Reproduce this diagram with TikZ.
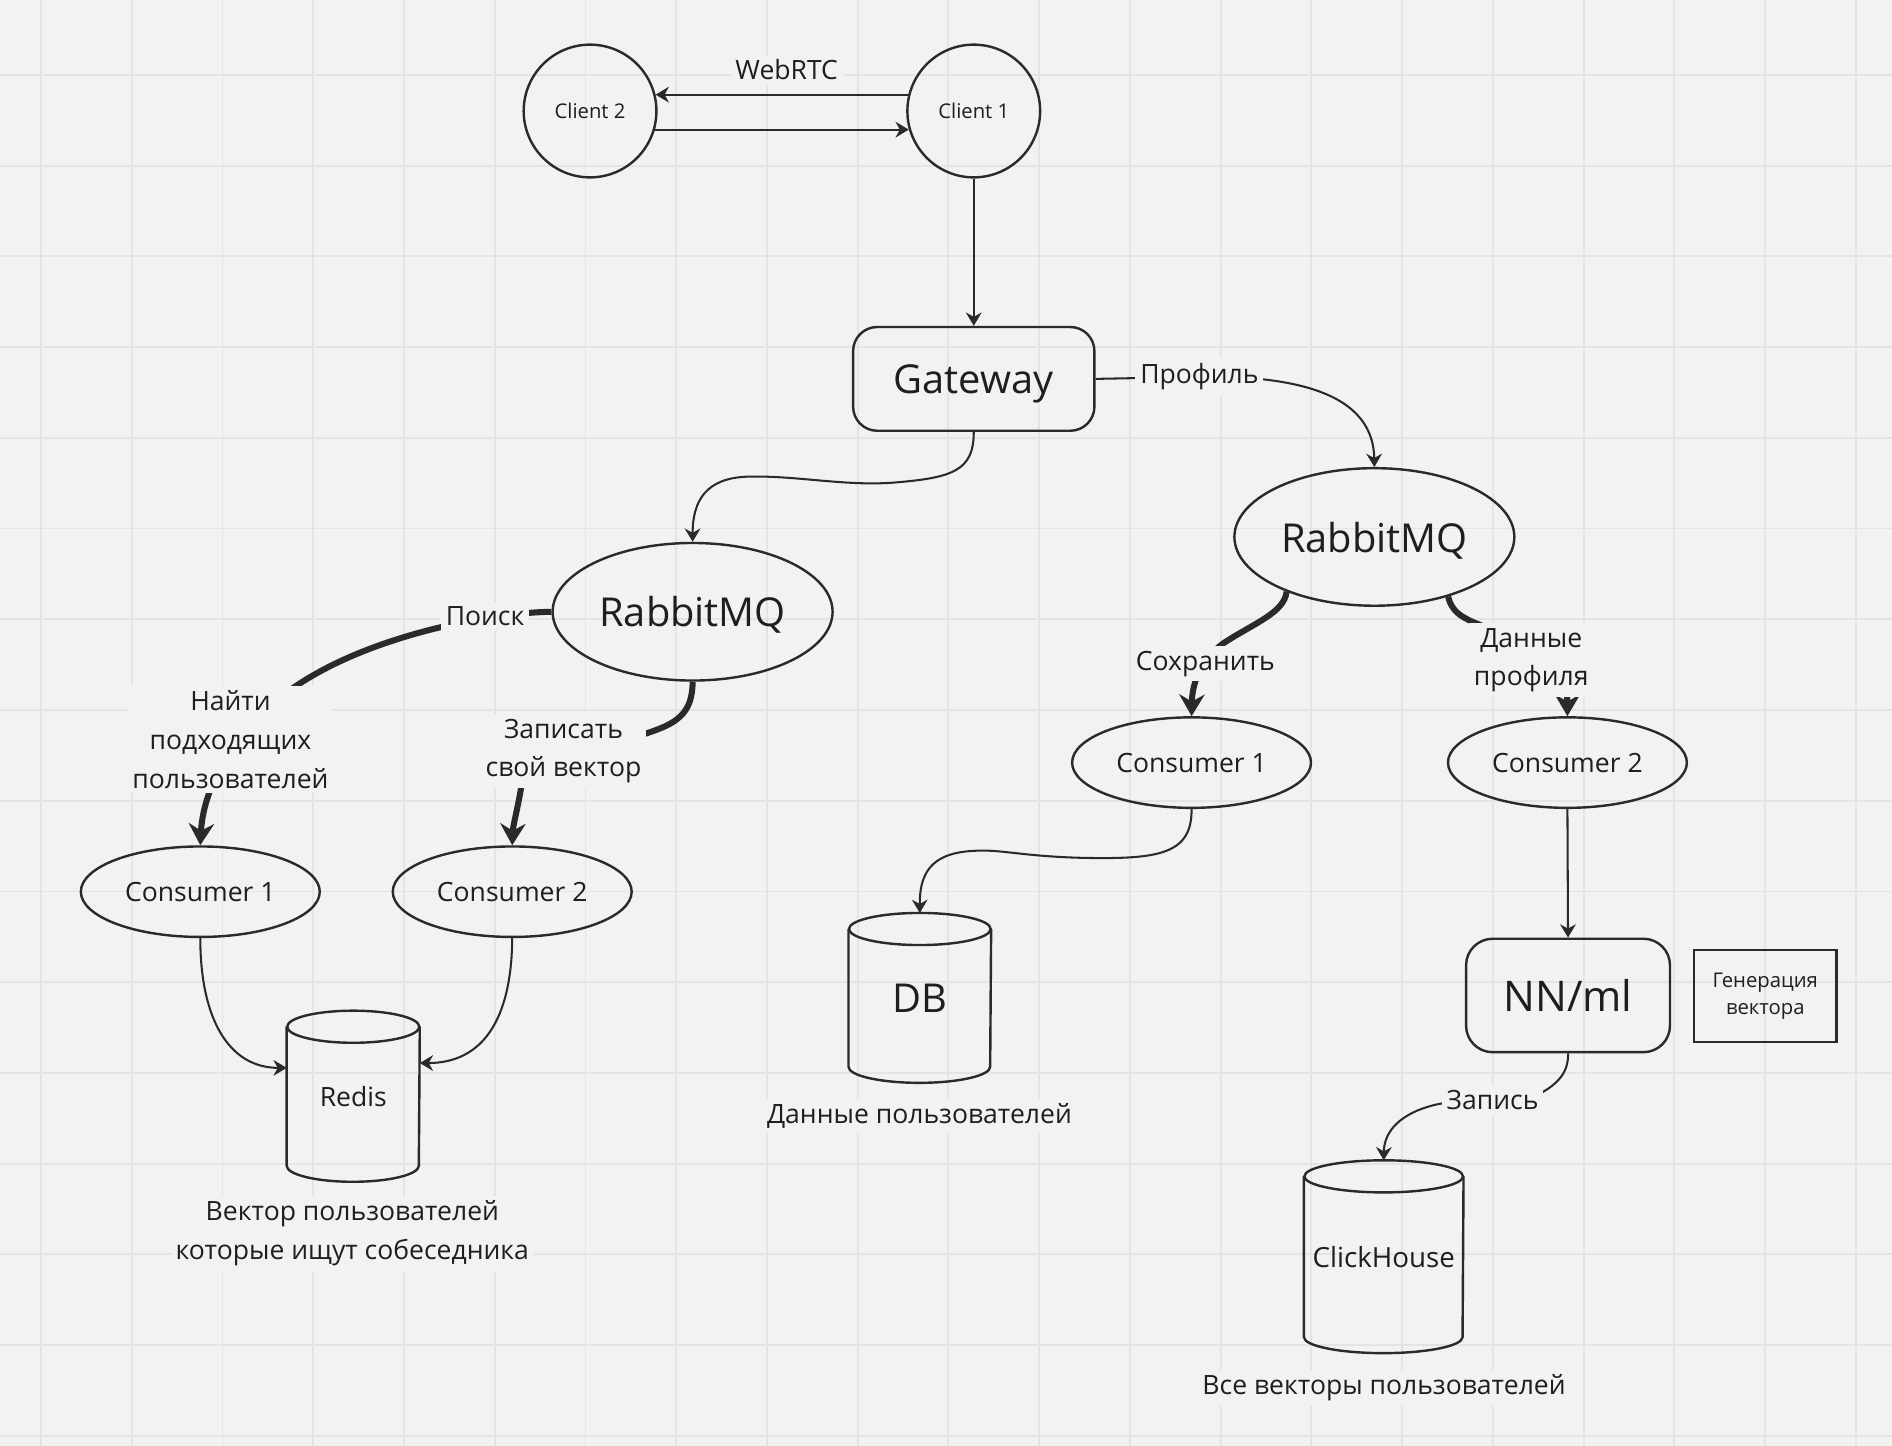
\documentclass[tikz,border=0pt]{standalone}
\usepackage{fontspec}
\setmainfont{Open Sans}
\usetikzlibrary{arrows.meta, positioning, shapes.geometric}

\definecolor{bgc}{HTML}{F2F2F2}
\definecolor{gridc}{HTML}{E4E4E4}
\definecolor{ink}{HTML}{2A2A2A}
\definecolor{txt}{HTML}{1E1E1E}

% outline of a database drum around node #1, half width #2
\newcommand{\storeoutline}[2]{%
  \draw[ink, line width=1pt]
  ([yshift=-6.65pt]#1.north west) -- ([yshift=6.65pt]#1.south west)
  arc[start angle=180, end angle=360, x radius=#2, y radius=6.65pt]
  -- ([yshift=-6.65pt]#1.north east);
  \draw[ink, line width=1pt] ([yshift=-6.65pt]#1.north) ellipse [x radius=#2, y radius=6.65pt];
}

\begin{document}
\begin{tikzpicture}[
    x=0.5pt, y=-0.5pt,
    % Node styles
    client/.style={
        circle, draw=ink, line width=1pt, minimum size=55pt, inner sep=0pt,
        text=txt, font=\fontsize{8.4}{10}\selectfont,
      },
    roundbox/.style={
        rectangle, rounded corners=10pt, draw=ink, line width=1pt, inner sep=0pt,
        text depth=0pt, text=txt,
      },
    queue/.style={
        ellipse, draw=ink, line width=1pt, inner sep=0pt,
        minimum width=116pt, minimum height=57pt, text depth=0pt,
        text=txt, font=\fontsize{16.5}{20}\selectfont,
      },
    worker/.style={
        ellipse, draw=ink, line width=1pt, inner sep=0pt,
        minimum width=99pt, minimum height=37.5pt,
        text=txt, font=\fontsize{11}{13}\selectfont,
      },
    store/.style={rectangle, inner sep=0pt, text=txt},
    note/.style={
        rectangle, draw=ink, line width=1pt, inner sep=0pt, align=center,
        text=txt, font=\fontsize{8.4}{11.5}\selectfont,
      },
    lbl/.style={
        fill=bgc, inner sep=2pt, align=center, text=txt,
        font=\fontsize{11}{16}\selectfont,
      },
    % Edge/arrow styles
    flow/.style={
        draw=ink, line width=0.85pt, -{Stealth[length=5.5pt, width=6.5pt, inset=1.8pt]},
      },
    bold flow/.style={
        draw=ink, line width=2.5pt, -{Stealth[length=9pt, width=10.5pt, inset=3pt]},
      },
  ]

  % --- Canvas and grid ---
  \fill[bgc] (0,0) rectangle (1568,1198);
  \useasboundingbox (0,0) rectangle (1568,1198);
  \foreach \i in {0,...,20} {
      \draw[gridc, line width=0.8pt] ({34+75.2*\i},0) -- ({34+75.2*\i},1198);
    }
  \foreach \j in {0,...,15} {
      \draw[gridc, line width=0.8pt] (0,{62+75.2*\j}) -- (1568,{62+75.2*\j});
    }

  % --- Nodes ---
  \node[client] (client2) at (489,92) {Client 2};
  \node[client] (client1) at (807,92) {Client 1};
  \node[roundbox, minimum width=100pt, minimum height=43pt,
    font=\fontsize{16.5}{20}\selectfont] (gateway) at (807,314) {Gateway};

  \node[queue] (rabbit1) at (574,507) {RabbitMQ};
  \node[queue] (rabbit2) at (1139,445) {RabbitMQ};

  \node[worker] (cons1) at (166,739) {Consumer 1};
  \node[worker] (cons2) at (424.5,739) {Consumer 2};
  \node[worker] (cons3) at (987.5,632) {Consumer 1};
  \node[worker] (cons4) at (1299,632) {Consumer 2};

  \node[store, minimum width=54.75pt, minimum height=70.5pt,
    font=\fontsize{11}{13}\selectfont] (redis) at (292.75,908.5) {Redis};
  \node[store, minimum width=58.7pt, minimum height=70pt,
    font=\fontsize{16.5}{20}\selectfont] (db) at (762.3,827) {DB};
  \node[store, minimum width=65.75pt, minimum height=79.5pt,
    font=\fontsize{11.5}{14}\selectfont] (click) at (1146.75,1041.5) {ClickHouse};
  \storeoutline{redis}{27.375pt}
  \storeoutline{db}{29.35pt}
  \storeoutline{click}{32.875pt}

  \node[roundbox, minimum width=84.5pt, minimum height=47pt, rounded corners=11pt,
    font=\fontsize{17.5}{21}\selectfont] (nnml) at (1299.5,825) {NN/ml};
  \node[note, minimum width=59pt, minimum height=38pt] (gen) at (1463,825.5)
  {Генерация\\вектора};

  % --- Connectors ---
  \draw[flow] (client1.166) -- (client2.14);
  \draw[flow] (client2.-16) -- (client1.196);
  \draw[flow] (client1.south) -- (gateway.north);

  \draw[flow] (gateway.south) .. controls (807,390) and (790,396) .. (740,400)
  .. controls (700,403) and (660,394) .. (620,395)
  .. controls (585,396) and (574,415) .. (rabbit1.north);
  \draw[flow] (gateway.east) -- (960,313)
  .. controls (1060,308) and (1138,320) .. (rabbit2.north);

  \draw[bold flow] (rabbit1.west) .. controls (400,508) and (290,530) .. (230,580)
  .. controls (185,618) and (168,660) .. (cons1.north);
  \draw[bold flow] (rabbit1.south) .. controls (574,592) and (560,600) .. (535,608)
  .. controls (470,630) and (436,630) .. (432,652)
  .. controls (429,670) and (425,685) .. (cons2.north);

  \draw[bold flow] (rabbit2.-148) .. controls (1064,508) and (1040,516) .. (1014,533)
  .. controls (996,546) and (988,565) .. (cons3.north);
  \draw[bold flow] (rabbit2.-39) .. controls (1203,506) and (1210,511) .. (1222,516)
  .. controls (1280,540) and (1299,560) .. (cons4.north);

  \draw[flow] (cons1.south) .. controls (166,845) and (190,885) .. ([yshift=11.75pt]redis.west);
  \draw[flow] (cons2.south) .. controls (424,845) and (400,881) .. ([yshift=13.75pt]redis.east);

  \draw[flow] (cons3.south) .. controls (988,708) and (960,712) .. (900,711)
  .. controls (850,710) and (830,704) .. (810,705)
  .. controls (775,706) and (762,720) .. (db.north);
  \draw[flow] (cons4.south) -- (nnml.north);
  \draw[flow] (nnml.south) .. controls (1300,888) and (1292,898) .. (1275,907)
  .. controls (1250,918) and (1215,910) .. (1192,915)
  .. controls (1160,922) and (1147,938) .. (click.north);

  % --- Labels ---
  \node[lbl] (lblweb) at (652,58) {WebRTC};
  \node[lbl] (lblprof) at (994,312) {Профиль};
  \node[lbl] (lblsearch) at (402,511) {Поиск};
  \node[lbl] (lblfind) at (191,613) {Найти\\подходящих\\пользователей};
  \node[lbl] (lblwrite) at (467,622.5) {Записать\\свой вектор};
  \node[lbl] (lblsave) at (999,550) {Сохранить};
  \node[lbl] (lbldata) at (1269,547) {Данные\\профиля};
  \node[lbl] (lblrec) at (1237,912) {Запись};

  \node[lbl] (capredis) at (292,1022) {Вектор пользователей\\которые ищут собеседника};
  \node[lbl] (capdb) at (762,925) {Данные пользователей};
  \node[lbl] (capclick) at (1147,1150) {Все векторы пользователей};

\end{tikzpicture}
\end{document}
